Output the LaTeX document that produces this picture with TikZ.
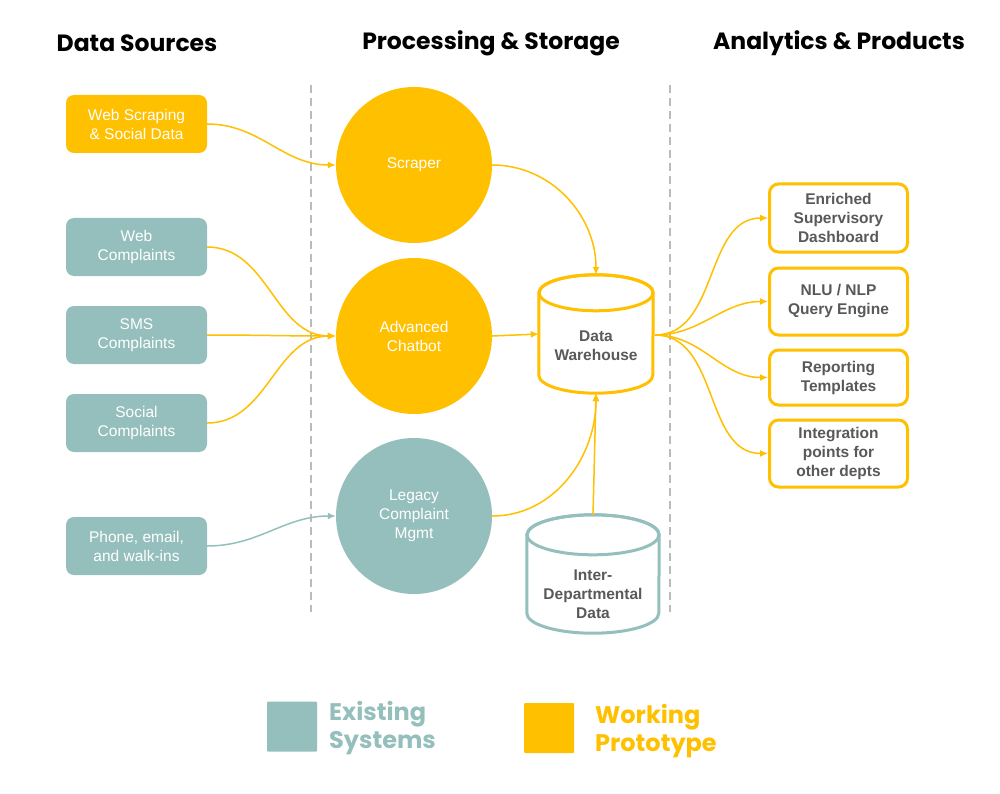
\documentclass[tikz,border=0pt]{standalone}
\usepackage{fontspec}
\setmainfont{Liberation Sans}
\newfontfamily\headfont{Poppins}
\usetikzlibrary{arrows.meta,calc}
\definecolor{orng}{HTML}{FFC000}
\definecolor{teal}{HTML}{95BFBD}
\definecolor{dgray}{HTML}{595959}
\definecolor{lgray}{HTML}{BBBBBB}
\tikzset{
  head/.style={font=\headfont\bfseries\fontsize{23.5}{27}\selectfont, text=black},
  srcbox/.style={rounded corners=8pt, minimum width=141pt, minimum height=58pt, inner sep=0pt, align=center, text=white, font=\fontsize{15.5}{19}\selectfont},
  srco/.style={srcbox, fill=orng},
  srct/.style={srcbox, fill=teal},
  proc/.style={circle, minimum size=156pt, inner sep=0pt, align=center, text=white, font=\fontsize{15.5}{19}\selectfont},
  outbox/.style={draw=orng, line width=3pt, rounded corners=9pt, fill=white, minimum width=138pt, inner sep=0pt, align=center, text=dgray, font=\bfseries\fontsize{15.5}{19}\selectfont},
  cylbox/.style={inner sep=0pt, align=center, text=dgray, font=\bfseries\fontsize{15.5}{19}\selectfont},
  conn/.style={line width=1.5pt, -{Latex[length=8pt,width=7pt]}},
  conno/.style={conn, draw=orng},
  connt/.style={conn, draw=teal},
  sep/.style={draw=lgray, line width=2pt, dash pattern=on 8pt off 5pt},
  legtext/.style={font=\headfont\bfseries\fontsize{24}{28}\selectfont, align=left, anchor=west, inner sep=0pt},
  legsq/.style={minimum size=50pt, inner sep=0pt, rounded corners=1pt}
}
\begin{document}
\begin{tikzpicture}[x=1pt,y=1pt]
\useasboundingbox[fill=white] (0,0) rectangle (1000,-794);

% headers
\node[head] (h1) at (137,-43) {Data Sources};
\node[head] (h2) at (491,-43) {Processing \& Storage};
\node[head] (h3) at (839,-43) {Analytics \& Products};

% separators
\coordinate (s1t) at (311,-85); \coordinate (s1b) at (311,-612);
\coordinate (s2t) at (670,-85); \coordinate (s2b) at (670,-612);
\draw[sep] (s1t) -- (s1b);
\draw[sep] (s2t) -- (s2b);

% sources
\node[srco] (ws) at (136.5,-124) {Web Scraping\\\& Social Data};
\node[srct] (wc) at (136.5,-247) {Web\\Complaints};
\node[srct] (sms) at (136.5,-335) {SMS\\Complaints};
\node[srct] (soc) at (136.5,-423) {Social\\Complaints};
\node[srct] (ph) at (136.5,-546) {Phone, email,\\and walk-ins};

% processing
\node[proc, fill=orng] (scr) at (414,-165) {Scraper};
\node[proc, fill=orng] (cb) at (414,-336) {Advanced\\Chatbot};
\node[proc, fill=teal] (leg) at (414,-516) {Legacy\\Complaint\\Mgmt};

% data warehouse cylinder
\node[minimum width=114pt, minimum height=118pt, inner sep=0pt] (dw) at (596,-334) {};
\draw[draw=orng, line width=3pt, fill=white]
  ([yshift=-18pt]dw.north west) -- ([yshift=18pt]dw.south west)
  arc[start angle=180, end angle=360, x radius=57, y radius=18]
  -- ([yshift=-18pt]dw.north east)
  arc[start angle=0, end angle=180, x radius=57, y radius=18] -- cycle;
\draw[draw=orng, line width=3pt] ([yshift=-18pt]dw.north) ellipse[x radius=57, y radius=18];
\node[cylbox] (dwt) at (596,-346) {Data\\Warehouse};

% inter-departmental cylinder
\node[minimum width=132pt, minimum height=118pt, inner sep=0pt] (idd) at (593,-574) {};
\draw[draw=teal, line width=3pt, fill=white]
  ([yshift=-20pt]idd.north west) -- ([yshift=20pt]idd.south west)
  arc[start angle=180, end angle=360, x radius=66, y radius=20]
  -- ([yshift=-20pt]idd.north east)
  arc[start angle=0, end angle=180, x radius=66, y radius=20] -- cycle;
\draw[draw=teal, line width=3pt] ([yshift=-20pt]idd.north) ellipse[x radius=66, y radius=20];
\node[cylbox] (iddt) at (593,-594) {Inter-\\Departmental\\Data};

% outputs
\node[outbox, minimum height=68pt] (o1) at (838.5,-218) {Enriched\\Supervisory\\Dashboard};
\node[outbox, minimum height=67pt] (o2) at (838.5,-301.5) {NLU / NLP\\Query Engine};
\node[outbox, minimum height=55pt] (o3) at (838.5,-377.5) {Reporting\\Templates};
\node[outbox, minimum height=67pt] (o4) at (838.5,-453.5) {Integration\\points for\\other depts};

% connectors
\draw[conno] (ws.east) to[out=0,in=180] (scr.west);
\draw[conno] (wc.east) to[out=0,in=180] (cb.west);
\draw[conno] (sms.east) to[out=0,in=180] (cb.west);
\draw[conno] (soc.east) to[out=0,in=180] (cb.west);
\draw[connt] (ph.east) to[out=0,in=180] (leg.west);
\draw[conno] (scr.east) to[out=0,in=90] (dw.north);
\draw[conno] (cb.east) -- (dw.west);
\draw[conno] (leg.east) to[out=0,in=-90] (dw.south);
\draw[conno] (idd.north) -- (dw.south);
\coordinate (dwo) at (655,-335);
\draw[conno] (dwo) to[out=0,in=180] (o1.west);
\draw[conno] (dwo) to[out=0,in=180] (o2.west);
\draw[conno] (dwo) to[out=0,in=180] (o3.west);
\draw[conno] (dwo) to[out=0,in=180] (o4.west);

% legend
\node[legsq, fill=teal] (lq1) at (292,-726.5) {};
\node[legtext, text=teal] (lt1) at (329,-728) {Existing\\Systems};
\node[legsq, fill=orng] (lq2) at (549,-728) {};
\node[legtext, text=orng] (lt2) at (595,-731) {Working\\Prototype};
\end{tikzpicture}
\end{document}
